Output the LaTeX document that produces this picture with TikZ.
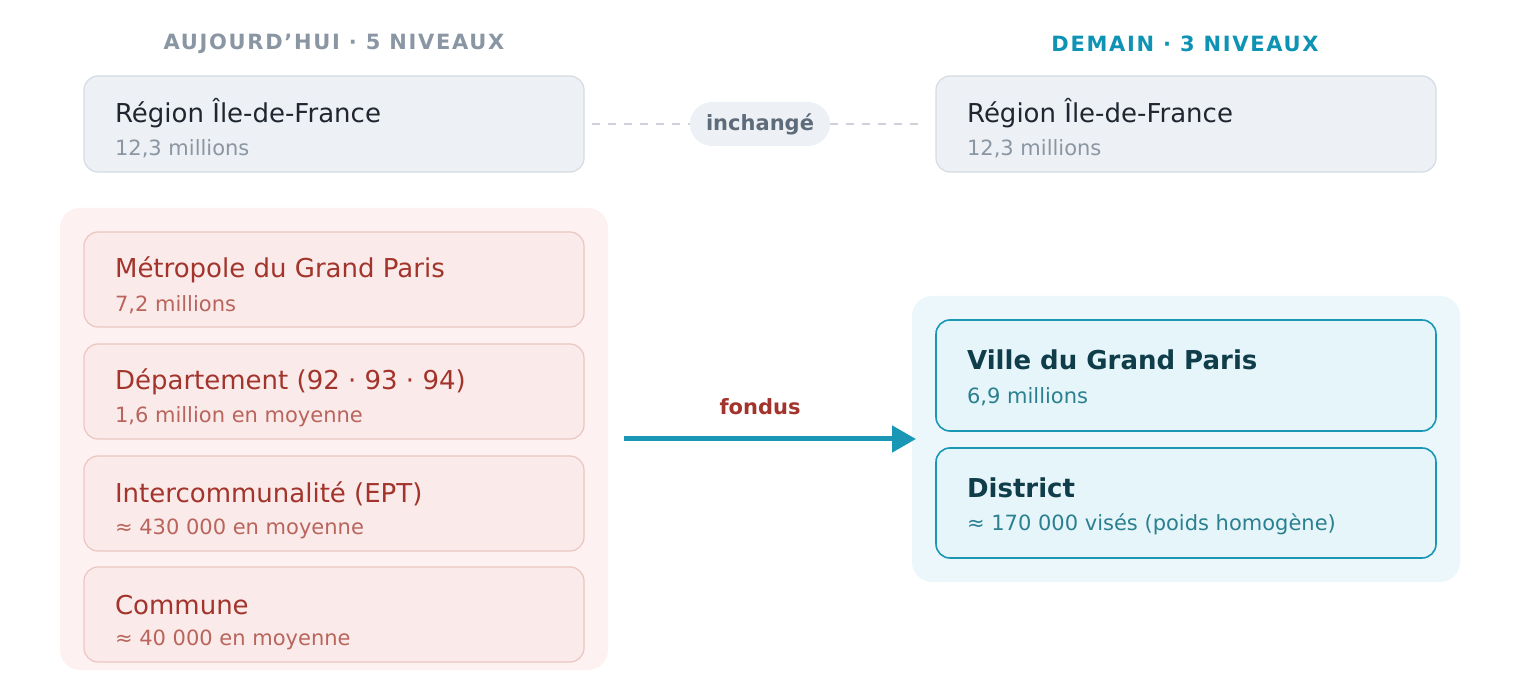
\documentclass[tikz,border=0pt]{standalone}
\usepackage{fontspec}
\setmainfont{DejaVu Sans}
\usetikzlibrary{arrows.meta}
\definecolor{grayfill}{HTML}{EDF0F4}
\definecolor{graydraw}{HTML}{D5DCE3}
\definecolor{graytext}{HTML}{8A96A3}
\definecolor{darktext}{HTML}{1F2630}
\definecolor{pilltext}{HTML}{5D6B7A}
\definecolor{redbg}{HTML}{FDF1F1}
\definecolor{redfill}{HTML}{FAEAEA}
\definecolor{reddraw}{HTML}{EBC6C0}
\definecolor{redtitle}{HTML}{A2342B}
\definecolor{redsub}{HTML}{B9655C}
\definecolor{bluebg}{HTML}{EBF7FA}
\definecolor{bluefill}{HTML}{E6F5FA}
\definecolor{bluedraw}{HTML}{1A97B5}
\definecolor{bluetitle}{HTML}{0F3D4A}
\definecolor{bluesub}{HTML}{2B8090}
\definecolor{bluehead}{HTML}{0E93B5}
\tikzset{
  box/.style={rounded corners=7pt, line width=0.6pt},
  ttl/.style={anchor=west, font=\fontsize{13}{15}\selectfont},
  sub/.style={anchor=west, font=\fontsize{10.5}{12}\selectfont},
  head/.style={font=\fontsize{10.5}{12}\selectfont\bfseries\addfontfeature{LetterSpace=8}},
}
\begin{document}
\begin{tikzpicture}[x=0.5pt,y=-0.5pt]
\useasboundingbox[fill=white] (0,0) rectangle (1520,699);
\node[head, text=graytext] (hl) at (334,44) {AUJOURD'HUI · 5 NIVEAUX};
\node[head, text=bluehead] (hr) at (1185,44) {DEMAIN · 3 NIVEAUX};
% top boxes
\draw[box, fill=grayfill, draw=graydraw] (84,76) rectangle (584,172);
\coordinate (rl) at (584,124);
\node[ttl, text=darktext] (rlt) at (108,113) {Région Île-de-France};
\node[sub, text=graytext] (rls) at (108,149) {12,3 millions};
\draw[box, fill=grayfill, draw=graydraw] (936,76) rectangle (1436,172);
\coordinate (rr) at (936,124);
\node[ttl, text=darktext] (rrt) at (960,113) {Région Île-de-France};
\node[sub, text=graytext] (rrs) at (960,149) {12,3 millions};
\node[fill=grayfill, rounded corners=11pt, minimum width=70pt, minimum height=22pt, inner sep=0pt, text=pilltext, font=\fontsize{10.5}{12}\selectfont\bfseries] (pill) at (760,124) {inchangé};
\draw[graydraw!90!gray, dashed, line width=1.2pt, dash pattern=on 4pt off 4pt] ([xshift=4pt]rl) -- (pill.west);
\draw[graydraw!90!gray, dashed, line width=1.2pt, dash pattern=on 4pt off 4pt] (pill.east) -- ([xshift=-8pt]rr);
% left group
\fill[redbg, rounded corners=10pt] (60,208) rectangle (608,670);
\foreach \y/\t/\s/\n in {232/Métropole du Grand Paris/{7,2 millions}/a, 344/Département (92 · 93 · 94)/{1,6 million en moyenne}/b, 456/Intercommunalité (EPT)/{≈ 430 000 en moyenne}/c, 567/Commune/{≈ 40 000 en moyenne}/d}{
  \draw[box, fill=redfill, draw=reddraw] (84,\y) rectangle (584,\y+95);
  \node[ttl, text=redtitle] (t\n) at (108,\y+38) {\t};
  \node[sub, text=redsub] (s\n) at (108,\y+73) {\s};
}
% right group
\fill[bluebg, rounded corners=10pt] (912,296) rectangle (1460,582);
\draw[box, fill=bluefill, draw=bluedraw, line width=0.8pt] (936,320) rectangle (1436,431);
\node[ttl, text=bluetitle, font=\fontsize{13}{15}\selectfont\bfseries] (vt) at (960,360) {Ville du Grand Paris};
\node[sub, text=bluesub] (vs) at (960,397) {6,9 millions};
\draw[box, fill=bluefill, draw=bluedraw, line width=0.8pt] (936,448) rectangle (1436,558);
\node[ttl, text=bluetitle, font=\fontsize{13}{15}\selectfont\bfseries] (dt) at (960,488) {District};
\node[sub, text=bluesub] (ds) at (960,524) {≈ 170 000 visés (poids homogène)};
% arrow
\coordinate (as) at (624,439);
\coordinate (ae) at (916,439);
\draw[bluedraw, line width=2.5pt, -{Triangle[length=12pt,width=13pt]}] (as) -- (ae);
\node[text=redtitle, font=\fontsize{10.5}{12}\selectfont\bfseries] (fl) at (760,407) {fondus};
\end{tikzpicture}
\end{document}
